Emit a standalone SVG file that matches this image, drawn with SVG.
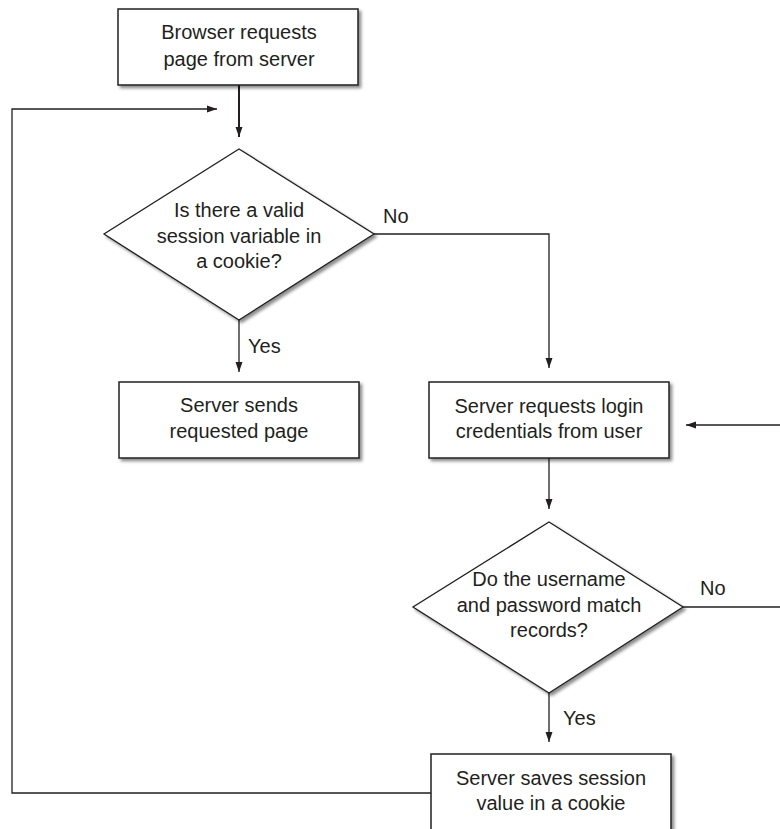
<svg xmlns="http://www.w3.org/2000/svg" width="780" height="829" viewBox="0 0 780 829">
<defs>
<style>
.box{fill:#fff;stroke:#231f20;stroke-width:1.5;filter:url(#sh)}
.dia{fill:#fff;stroke:#231f20;stroke-width:1.3;filter:url(#sh)}
.t{font-family:"Liberation Sans",Arial,sans-serif;font-size:20px;fill:#231f20;text-anchor:middle}
.l{font-family:"Liberation Sans",Arial,sans-serif;font-size:20px;fill:#231f20}
.c{fill:none;stroke:#231f20;stroke-width:1.3}
.cb{fill:none;stroke:#231f20;stroke-width:2}
</style>
<filter id="sh" x="-10%" y="-10%" width="130%" height="130%">
<feDropShadow dx="2.5" dy="2.5" stdDeviation="1.8" flood-color="#000" flood-opacity="0.45"/>
</filter>
<marker id="ah" viewBox="0 0 10 10" refX="10" refY="5" markerWidth="10" markerHeight="10" markerUnits="userSpaceOnUse" orient="auto">
<path d="M0,1.5 L10,5 L0,8.5 z" fill="#231f20"/>
</marker>
</defs>
<rect width="780" height="829" fill="#fff"/>
<g id="connectors">
<path class="cb" d="M239,85 V137" marker-end="url(#ah)"/>
<path class="c" d="M431,793 H12 V109 H217" marker-end="url(#ah)"/>
<path class="c" d="M374,234 H549 V368" marker-end="url(#ah)"/>
<path class="c" d="M239,320 V372" marker-end="url(#ah)"/>
<path class="c" d="M780,425 H686" marker-end="url(#ah)"/>
<path class="c" d="M549,458 V509" marker-end="url(#ah)"/>
<path class="c" d="M683,607 H780"/>
<path class="c" d="M549,693 V742" marker-end="url(#ah)"/>
<text class="l" x="383" y="223">No</text>
<text class="l" x="248" y="353">Yes</text>
<text class="l" x="700" y="595">No</text>
<text class="l" x="563" y="725">Yes</text>
</g>
<g id="browser-requests">
<rect class="box" x="118" y="9" width="240" height="76"/>
<text class="t" x="239" y="39">Browser requests</text>
<text class="t" x="239" y="66">page from server</text>
</g>
<g id="valid-session">
<polygon class="dia" points="239,149 374,234 239,320 104,234"/>
<text class="t" x="239" y="217">Is there a valid</text>
<text class="t" x="239" y="243">session variable in</text>
<text class="t" x="239" y="268">a cookie?</text>
</g>
<g id="server-sends">
<rect class="box" x="119" y="382" width="240" height="76"/>
<text class="t" x="239" y="412">Server sends</text>
<text class="t" x="239" y="438">requested page</text>
</g>
<g id="server-requests-login">
<rect class="box" x="429" y="382" width="240" height="76"/>
<text class="t" x="549" y="413">Server requests login</text>
<text class="t" x="549" y="438">credentials from user</text>
</g>
<g id="credentials-match">
<polygon class="dia" points="549,522 683,607 549,693 413,607"/>
<text class="t" x="549" y="586">Do the username</text>
<text class="t" x="549" y="612">and password match</text>
<text class="t" x="549" y="637">records?</text>
</g>
<g id="server-saves">
<rect class="box" x="431" y="754" width="240" height="90"/>
<text class="t" x="551" y="785">Server saves session</text>
<text class="t" x="551" y="810">value in a cookie</text>
</g>
</svg>
